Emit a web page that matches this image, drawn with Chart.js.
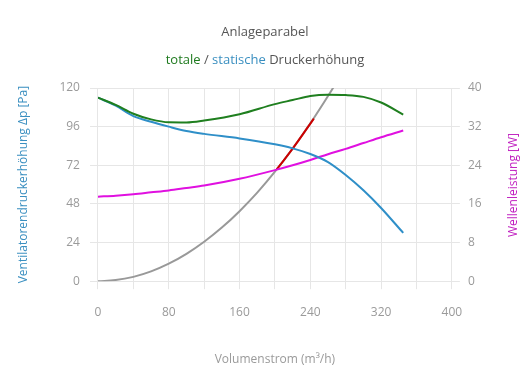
<!DOCTYPE html>
<html><head><meta charset="utf-8">
<script src="https://cdn.jsdelivr.net/npm/chart.js@4/dist/chart.umd.min.js"></script>
<style>
html,body{margin:0;padding:0;background:#fff;}
#wrap{position:relative;width:530px;height:390px;font-family:"Open Sans",sans-serif;}
#c{position:absolute;left:0;top:0;}
.t{position:absolute;left:0;width:530px;text-align:center;font-size:13px;color:#555;}
#rt{position:absolute;left:513px;top:185px;width:200px;margin-left:-100px;text-align:center;font-size:12px;color:#c020c0;transform:rotate(-90deg);line-height:16px;margin-top:-8px;}
</style></head><body>
<div id="wrap">
<canvas id="c" width="530" height="390"></canvas>
<div class="t" style="top:22px;">Anlageparabel</div>
<div class="t" style="top:50px;"><span style="color:#1f7a1f">totale</span> / <span style="color:#3a8fc0">statische</span> Druckerhöhung</div>
<div id="rt">Wellenleistung [W]</div>
</div>
<script>
// Flow (m³/h) for fan curves
const flowFan = [0, 20, 40, 60, 80, 100, 120, 160, 200, 220, 240, 260, 280, 300, 320, 345];
const staticPressure = [114, 109, 102.5, 99, 96, 93.3, 91.5, 88.7, 85, 82.5, 79, 74, 66, 56.5, 45.5, 30];
const totalPressure = [114, 109.5, 104, 100.5, 98.7, 98.6, 99.8, 103.7, 110, 112.5, 115, 115.8, 115.6, 114.5, 111, 103.5];
const shaftPower = [17.5, 17.7, 18, 18.4, 18.8, 19.3, 19.8, 21.2, 23, 24, 25.1, 26.3, 27.4, 28.6, 29.8, 31.2];
// System parabola
const flowSys = [0, 20, 40, 60, 80, 100, 120, 140, 160, 180, 200, 220, 240, 260, 280];
const systemPressure = [0, 0.7, 2.7, 6.1, 10.9, 17, 24.5, 33.3, 43.5, 55, 68, 82.3, 98, 115, 133];
// Highlighted segment (operating range)
const flowOp = [202, 220, 244];
const opPressure = [69.4, 82.3, 101];
// Tick labels
const xTicks = [0, 80, 160, 240, 320, 400];

const pts = (xs, ys) => xs.map((x, i) => ({x: x, y: ys[i]}));
const tickColor = '#9a9a9a';
const gridColor = '#e6e6e6';
const fontFam = '"Open Sans", sans-serif';

new Chart(document.getElementById('c'), {
  type: 'line',
  data: {
    datasets: [
      {label: 'Anlage', data: pts(flowSys, systemPressure), borderColor: '#999999', borderWidth: 2, yAxisID: 'y', pointRadius: 0, tension: 0.4, order: 5},
      {label: 'Betrieb', data: pts(flowOp, opPressure), borderColor: '#cc0000', borderWidth: 2, yAxisID: 'y', pointRadius: 0, tension: 0.4, order: 4},
      {label: 'Leistung', data: pts(flowFan, shaftPower), borderColor: '#e010e0', borderWidth: 2, yAxisID: 'y2', pointRadius: 0, cubicInterpolationMode: 'monotone', order: 3},
      {label: 'statisch', data: pts(flowFan, staticPressure), borderColor: '#2f8fc8', borderWidth: 2, yAxisID: 'y', pointRadius: 0, cubicInterpolationMode: 'monotone', order: 2},
      {label: 'total', data: pts(flowFan, totalPressure), borderColor: '#1f7f1f', borderWidth: 2, yAxisID: 'y', pointRadius: 0, cubicInterpolationMode: 'monotone', order: 1}
    ]
  },
  options: {
    responsive: false,
    animation: false,
    layout: {padding: {top: 88, left: 12, right: 8, bottom: 19}},
    plugins: {legend: {display: false}, tooltip: {enabled: false}, title: {display: false}},
    scales: {
      x: {
        type: 'linear', min: 0, max: 400,
        ticks: {stepSize: 40, color: tickColor, padding: 16, font: {family: fontFam, size: 12}, maxRotation: 0,
          callback: v => xTicks.includes(v) ? String(v) : ''},
        grid: {color: gridColor, tickLength: 8},
        border: {color: gridColor},
        title: {display: true, text: 'Volumenstrom (m³/h)', color: tickColor, font: {family: fontFam, size: 12}, padding: {top: 17}}
      },
      y: {
        position: 'left', min: 0, max: 120,
        ticks: {stepSize: 24, color: tickColor, padding: 10, font: {family: fontFam, size: 12}},
        grid: {color: gridColor, tickLength: 8},
        border: {color: gridColor},
        title: {display: true, text: 'Ventilatorendruckerhöhung Δp [Pa]', color: '#3a8fc0', font: {family: fontFam, size: 12}, padding: {bottom: 19}}
      },
      y2: {
        position: 'right', min: 0, max: 40,
        ticks: {stepSize: 8, color: tickColor, padding: 8, font: {family: fontFam, size: 12}},
        grid: {drawOnChartArea: false, color: gridColor, tickLength: 8},
        border: {color: gridColor},
        title: {display: true, text: 'Wellenleistung [W]', color: 'rgba(0,0,0,0)', font: {family: fontFam, size: 12}, padding: {top: 14}}
      }
    }
  }
});
</script>
</body></html>
